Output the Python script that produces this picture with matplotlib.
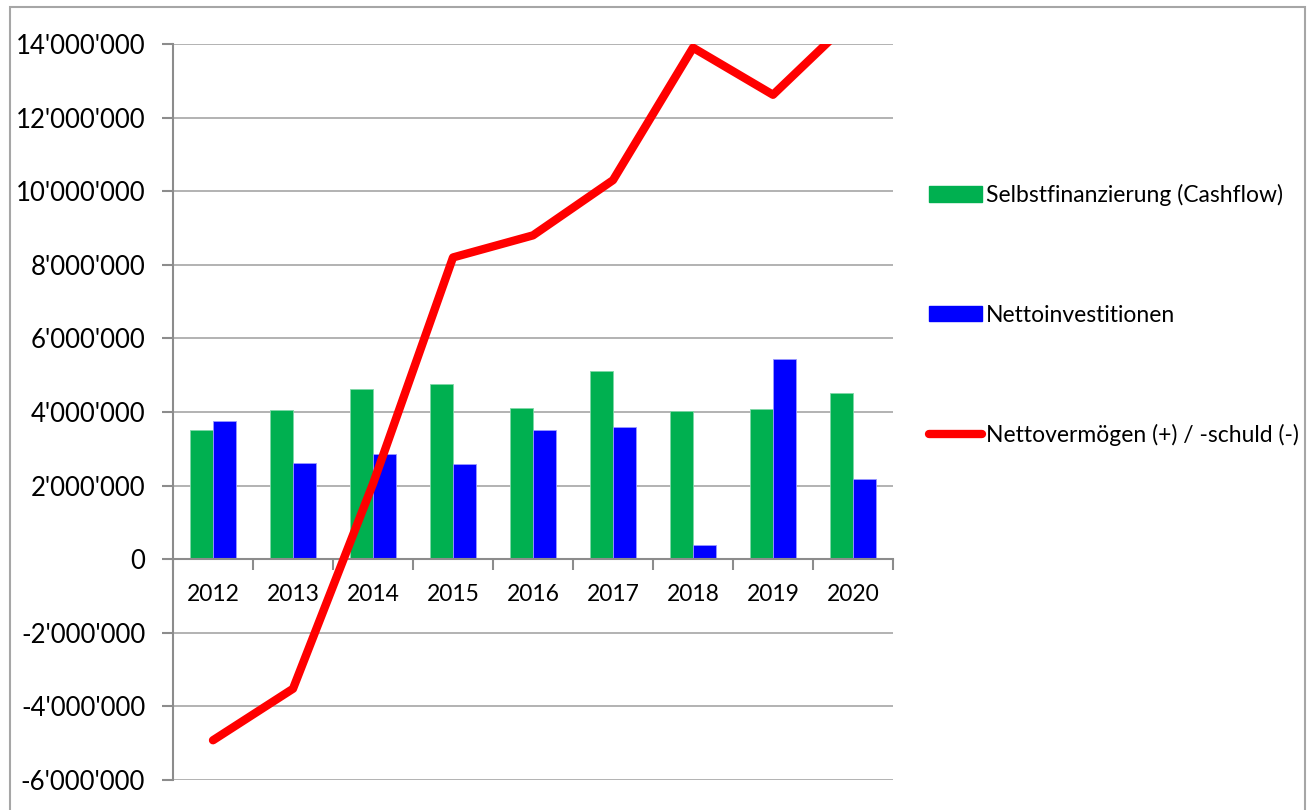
import matplotlib
matplotlib.use("Agg")
from matplotlib import pyplot as plt
from matplotlib.ticker import FuncFormatter, FixedLocator
from matplotlib.patches import Rectangle
from matplotlib.lines import Line2D
from matplotlib.patches import Patch
import numpy as np

years = ["2012", "2013", "2014", "2015", "2016", "2017", "2018", "2019", "2020"]
cashflow = [3.51e6, 4.05e6, 4.62e6, 4.76e6, 4.10e6, 5.11e6, 4.02e6, 4.08e6, 4.51e6]
investitionen = [3.75e6, 2.61e6, 2.85e6, 2.58e6, 3.51e6, 3.59e6, 0.38e6, 5.43e6, 2.17e6]
nettovermoegen = [-4.92e6, -3.52e6, 2.05e6, 8.2e6, 8.8e6, 10.3e6, 13.9e6, 12.62e6, 14.7e6]

labels = ["Selbstfinanzierung (Cashflow)", "Nettoinvestitionen", "Nettovermögen (+) / -schuld (-)"]

plt.rcParams['font.family'] = ['Lato', 'DejaVu Sans']

fig = plt.figure(figsize=(13.13, 8.10), dpi=100)
ax = fig.add_axes([173 / 1313, 1 - 780 / 810, 720 / 1313, 736 / 810])

x = np.arange(len(years))
w = 0.2875
ax.bar(x - w / 2, cashflow, w, color="#00B050", edgecolor="#7fd8a7", linewidth=0.6, zorder=2)
ax.bar(x + w / 2, investitionen, w, color="#0000FF", edgecolor="#9a9aff", linewidth=0.6, zorder=2)
ax.plot(x, nettovermoegen, color="#FF0000", linewidth=6, solid_capstyle="round",
        solid_joinstyle="round", zorder=3)

ax.set_xlim(-0.5, len(years) - 0.5)
ax.set_ylim(-6e6, 14e6)
ax.set_yticks(np.arange(-6e6, 14.1e6, 2e6))
ax.yaxis.set_major_formatter(FuncFormatter(lambda v, p: f"{v:,.0f}".replace(",", "'")))
ax.grid(axis="y", color="#A6A6A6", linewidth=1.2, zorder=0)
ax.set_axisbelow(True)

for s in ["top", "right"]:
    ax.spines[s].set_visible(False)
ax.spines["left"].set_color("#8C8C8C")
ax.spines["left"].set_linewidth(1.5)
ax.spines["bottom"].set_position(("data", 0))
ax.spines["bottom"].set_color("#8C8C8C")
ax.spines["bottom"].set_linewidth(1.5)

ax.set_xticks(x)
ax.set_xticklabels(years)
ax.xaxis.set_minor_locator(FixedLocator(np.arange(-0.5, len(years), 1)))
ax.tick_params(axis="x", which="major", length=0, labelsize=16.5, pad=18)
ax.tick_params(axis="x", which="minor", length=8, width=1.5, color="#8C8C8C", direction="out")
ax.tick_params(axis="y", length=8, width=1.5, color="#8C8C8C", labelsize=18.5, pad=12)

handles = [Patch(color="#00B050"), Patch(color="#0000FF"),
           Line2D([0], [0], color="#FF0000", linewidth=6, solid_capstyle="round")]
fig.legend(handles, labels, loc="upper left", bbox_to_anchor=(929 / 1313, 1 - 184 / 810),
           frameon=False, fontsize=16.5, handlelength=2.3, handleheight=0.65,
           handletextpad=0.2, labelspacing=4.3, borderpad=0, borderaxespad=0)

fig.patches.append(Rectangle((10 / 1313, -0.02), 1295 / 1313, 1 - 7 / 810 + 0.02,
                             transform=fig.transFigure, fill=False,
                             edgecolor="#A6A6A6", linewidth=1.5))

plt.savefig("out.png", dpi=100)
